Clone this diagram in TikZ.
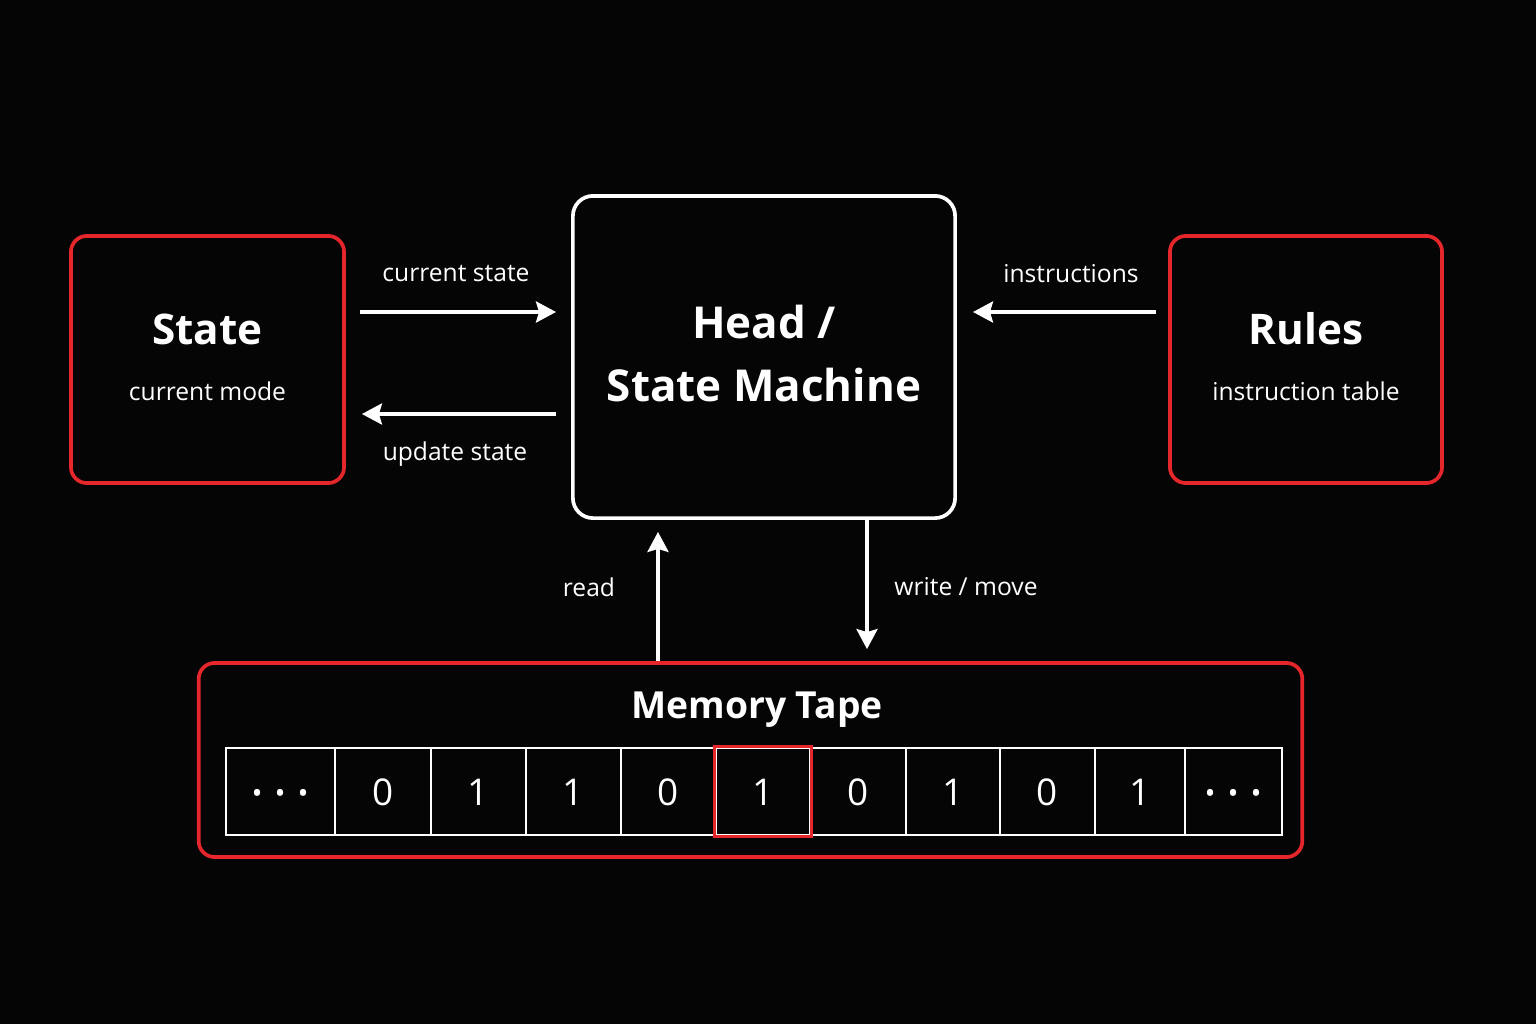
\documentclass[tikz,border=0pt]{standalone}
\usepackage{fontspec}
\setmainfont{Open Sans}
\usetikzlibrary{arrows.meta,calc}
\definecolor{bg}{HTML}{050506}
\definecolor{tred}{HTML}{E5262A}
\begin{document}
\begin{tikzpicture}[x=0.01cm,y=-0.01cm,
  redbox/.style={draw=tred,line width=1.05pt,rounded corners=0.16cm,inner sep=0pt},
  whitebox/.style={draw=white,line width=1.05pt,rounded corners=0.2cm,inner sep=0pt},
  arr/.style={draw=white,line width=1pt,-{Stealth[length=0.2cm,width=0.21cm,inset=0.03cm]}},
  lbl/.style={text=white,font=\fontsize{7}{9}\selectfont},
  ttl/.style={text=white,font=\fontsize{12}{15}\selectfont\bfseries},
  cell/.style={draw=white,line width=0.8pt,minimum height=0.87cm,inner sep=0pt,text height=0.28cm,text depth=0cm,text=white,font=\fontsize{10.5}{12}\selectfont},
]
\fill[bg] (0,0) rectangle (1536,1024);
\useasboundingbox (0,0) rectangle (1536,1024);

\node[redbox,minimum width=2.73cm,minimum height=2.47cm] (state) at (207.5,359.5) {};
\node[whitebox,minimum width=3.82cm,minimum height=3.22cm] (head) at (764,357) {};
\node[redbox,minimum width=2.72cm,minimum height=2.47cm] (rules) at (1306,359.5) {};
\node[redbox,minimum width=11.03cm,minimum height=1.94cm] (tape) at (750.5,760) {};

\node[ttl] (stT) at (207.5,329) {State};
\node[lbl] (stS) at (207.5,391) {current mode};
\node[ttl,font=\fontsize{12.5}{15}\selectfont\bfseries] (hdA) at (764,322) {Head /};
\node[ttl,font=\fontsize{12.5}{15}\selectfont\bfseries] (hdB) at (764,385) {State Machine};
\node[ttl] (ruT) at (1306,329) {Rules};
\node[lbl] (ruS) at (1306,391) {instruction table};
\node[ttl,font=\fontsize{10.6}{13}\selectfont\bfseries] (tpT) at (757,710) {Memory Tape};

% connectors
\draw[arr,shorten <=0.14cm,shorten >=0.15cm] (state.east |- 0,312) -- (head.west |- 0,312);
\draw[arr,shorten <=0.15cm,shorten >=0.16cm] (head.west |- 0,414) -- (state.east |- 0,414);
\draw[arr,shorten <=0.12cm,shorten >=0.16cm] (rules.west |- 0,312) -- (head.east |- 0,312);
\draw[arr,shorten >=0.12cm] (tape.north -| 658,0) -- (head.south -| 658,0);
\draw[arr,shorten >=0.12cm] (head.south -| 867,0) -- (tape.north -| 867,0);

\node[lbl] (l1) at (456,274) {current state};
\node[lbl] (l2) at (455,454) {update state};
\node[lbl] (l3) at (1071,274) {instructions};
\node[lbl] (l4) at (589,587) {read};
\node[lbl] (l5) at (966,587) {write / move};

% tape cells
\foreach \a/\b/\t [count=\i] in {226/335/{\raisebox{-0.06cm}{\fontsize{15}{15}\selectfont ·\,·\,·}},335/431/0,431/526/1,526/621/1,621/716/0,716/810/1,810/906/0,906/1000/1,1000/1095/0,1095/1185/1,1185/1282/{\raisebox{-0.06cm}{\fontsize{15}{15}\selectfont ·\,·\,·}}}{
  \pgfmathsetmacro\w{(\b-\a)/100}
  \node[cell,minimum width=\w cm] (c\i) at ({(\a+\b)/2},791.5) {\t};
}
\draw[tred,line width=0.9pt] (c6.north west) rectangle (c6.south east);
\end{tikzpicture}
\end{document}
